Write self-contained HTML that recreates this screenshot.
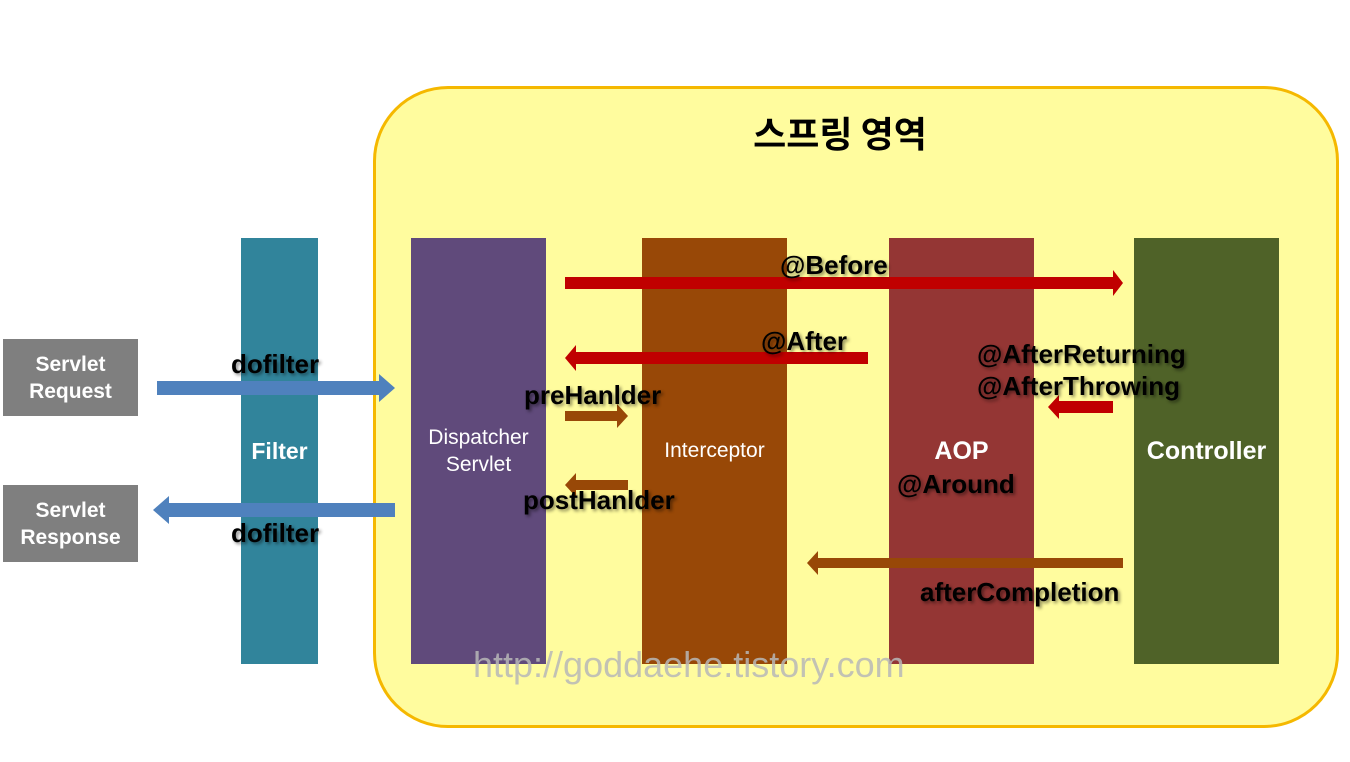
<!DOCTYPE html>
<html><head><meta charset="utf-8"><style>
body{margin:0;width:1350px;height:762px;background:#fff;position:relative;overflow:hidden;font-family:"Liberation Sans","Noto Sans CJK KR",sans-serif}
.a{position:absolute}
.bar{position:absolute;top:238px;height:426px;color:#fff;font-weight:bold;display:flex;align-items:center;justify-content:center;text-align:center}
.lbl{position:absolute;font-weight:bold;font-size:26px;color:#000;text-shadow:2px 2px 3px rgba(0,0,0,.45);white-space:nowrap;letter-spacing:0px}
.gb{position:absolute;left:3px;width:135px;height:77px;background:#7f7f7f;color:#fff;font-weight:bold;font-size:21px;display:flex;align-items:center;justify-content:center;text-align:center;line-height:27px}
</style></head><body>
<div class="a" style="left:373px;top:86px;width:960px;height:636px;border:3px solid #f5b800;border-radius:75px;background:#fffc9e"></div>
<div class="a" style="left:740px;top:106px;width:200px;text-align:center;font-weight:bold;font-size:36px;font-family:'Noto Sans CJK KR',sans-serif">스프링 영역</div>
<div class="bar" style="left:241px;width:77px;background:#31849b;font-size:23px">Filter</div>
<div class="bar" style="left:411px;width:135px;background:#604a7b;font-size:21px;font-weight:normal;line-height:27px">Dispatcher<br>Servlet</div>
<div class="bar" style="left:642px;width:145px;background:#984807;font-size:21px;font-weight:normal">Interceptor</div>
<div class="bar" style="left:889px;width:145px;background:#943634;font-size:25px">AOP</div>
<div class="bar" style="left:1134px;width:145px;background:#4f6228;font-size:25px">Controller</div>
<div class="gb" style="top:339px">Servlet<br>Request</div>
<div class="gb" style="top:485px">Servlet<br>Response</div>
<svg class="a" style="left:0;top:0" width="1350" height="762">
<g fill="#4f81bd">
<polygon points="157,381 379,381 379,374 395,388 379,402 379,395 157,395"/>
<polygon points="395,503 169,503 169,496 153,510 169,524 169,517 395,517"/>
</g>
<g fill="#c00000">
<polygon points="565,277 1113,277 1113,270 1123,283 1113,296 1113,289 565,289"/>
<polygon points="868,352 576,352 576,345 565,358 576,371 576,364 868,364"/>
<polygon points="1113,401 1059,401 1059,395 1048,407 1059,419 1059,413 1113,413"/>
</g>
<g fill="#984807">
<polygon points="565,411 617,411 617,404 628,416 617,428 617,421 565,421"/>
<polygon points="628,480 576,480 576,473 565,485 576,497 576,490 628,490"/>
<polygon points="1123,558 818,558 818,551 807,563 818,575 818,568 1123,568"/>
</g>
</svg>
<div class="lbl" style="left:231px;top:349px">dofilter</div>
<div class="lbl" style="left:231px;top:518px">dofilter</div>
<div class="lbl" style="left:524px;top:380px">preHanlder</div>
<div class="lbl" style="left:523px;top:485px">postHanlder</div>
<div class="lbl" style="left:780px;top:250px">@Before</div>
<div class="lbl" style="left:761px;top:326px">@After</div>
<div class="lbl" style="left:977px;top:339px">@AfterReturning</div>
<div class="lbl" style="left:977px;top:371px">@AfterThrowing</div>
<div class="lbl" style="left:897px;top:469px">@Around</div>
<div class="lbl" style="left:920px;top:577px">afterCompletion</div>
<div class="a" style="left:473px;top:644px;font-size:36px;color:#b8b8b8;opacity:.85">http://goddaehe.tistory.com</div>
</body></html>
